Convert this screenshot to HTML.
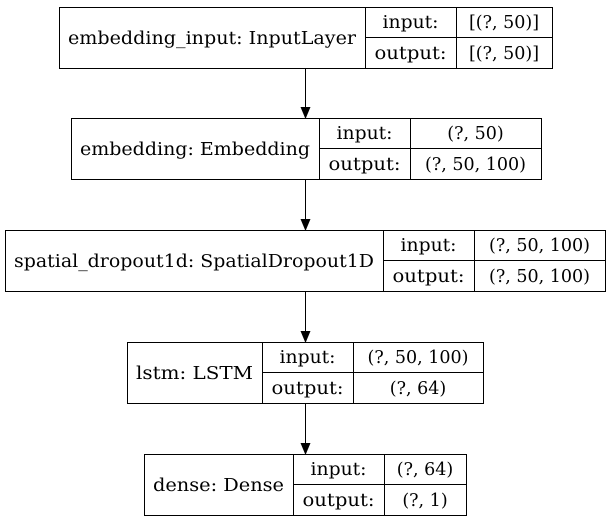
<!DOCTYPE html>
<html><head><meta charset="utf-8"><style>
html,body{margin:0;padding:0;background:#fff;}
svg{display:block;}
text{font-family:"DejaVu Serif","Liberation Serif",serif;font-size:17.5px;fill:#000;}
</style></head><body>
<svg width="611" height="523" viewBox="0 0 611 523">
<g id="g"></g>
</svg>
<script>
const names=["embedding_input: InputLayer","embedding: Embedding","spatial_dropout1d: SpatialDropout1D","lstm: LSTM","dense: Dense"];
const inputs=["[(?, 50)]","(?, 50)","(?, 50, 100)","(?, 50, 100)","(?, 64)"];
const outputs=["[(?, 50)]","(?, 50, 100)","(?, 50, 100)","(?, 64)","(?, 1)"];
const boxes=[[59,7,365,456,552],[71,118,319,410,541],[5,230,383,474,605],[127,342,262,353,483],[144,454,293,384,466]];
const H=61, NS="http://www.w3.org/2000/svg", g=document.getElementById('g');
function el(t,a,p){const e=document.createElementNS(NS,t);for(const k in a)e.setAttribute(k,a[k]);(p||g).appendChild(e);return e;}
function tx(x,y,s,p,w){const e=el('text',{x:x,y:y,'text-anchor':'middle'},p);e.textContent=s;if(w){e.setAttribute('textLength',w);e.setAttribute('lengthAdjust','spacingAndGlyphs');}return e;}
boxes.forEach((b,i)=>{
  const [x1,y,c1,c2,x2]=b;
  const grp=el('g',{});
  
  
  el('rect',{x:x1+0.5,y:y+0.5,width:x2-x1,height:H,fill:'#fff',stroke:'#000','stroke-width':1},grp);
  el('line',{x1:c1+0.5,y1:y,x2:c1+0.5,y2:y+H,stroke:'#000'},grp);
  el('line',{x1:c2+0.5,y1:y,x2:c2+0.5,y2:y+H,stroke:'#000'},grp);
  el('line',{x1:c1,y1:y+30.5,x2:x2,y2:y+30.5,stroke:'#000'},grp);
  tx((x1+c1)/2,y+37,names[i],grp,(c1-x1)-18);
  tx((c1+c2)/2,y+21,'input:',grp,56);
  tx((c1+c2)/2,y+52,'output:',grp,72);
  tx((c2+x2)/2,y+21,inputs[i],grp);
  tx((c2+x2)/2,y+52,outputs[i],grp);
  if(i<boxes.length-1){
    const ny=boxes[i+1][1];
    const a=el('g',{});
    
    
    el('line',{x1:305.5,y1:y+H+1,x2:305.5,y2:ny-10,stroke:'#000'},a);
    el('polygon',{points:`300.5,${ny-11} 310.5,${ny-11} 305.5,${ny+1}`,fill:'#000'},a);
  }
});
</script>
</body></html>
